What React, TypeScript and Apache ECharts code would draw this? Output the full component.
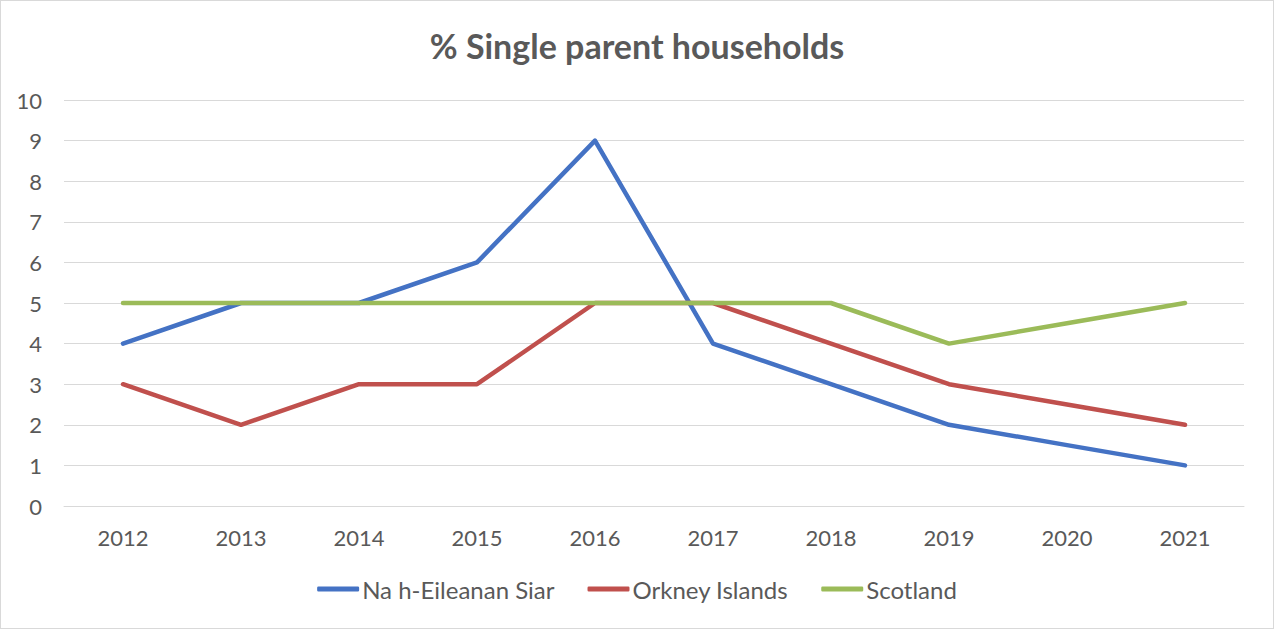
import React, { useEffect, useRef } from "react";
import * as echarts from "echarts";

const years = ["2012", "2013", "2014", "2015", "2016", "2017", "2018", "2019", "2020", "2021"];
const naHEileananSiar = [4, 5, 5, 6, 9, 4, 3, 2, 1.5, 1];
const orkneyIslands = [3, 2, 3, 3, 5, 5, 4, 3, 2.5, 2];
const scotland = [5, 5, 5, 5, 5, 5, 5, 4, 4.5, 5];

const FONT = "Lato, 'Open Sans', sans-serif";
const GREY = "#595959";

export default function App() {
  const ref = useRef<HTMLDivElement>(null);
  useEffect(() => {
    if (!ref.current) return;
    const chart = echarts.init(ref.current, undefined, { renderer: "svg" });
    const mk = (name: string, data: number[], color: string) => ({
      name,
      type: "line",
      data,
      symbol: "none",
      lineStyle: { color, width: 4.5, cap: "round", join: "round" },
      itemStyle: { color },
    });
    chart.setOption({
      animation: false,
      backgroundColor: "#ffffff",
      title: {
        text: "% Single parent households",
        left: "center",
        top: 22,
        textStyle: { fontFamily: FONT, fontSize: 34, fontWeight: "bold", color: GREY },
      },
      grid: { left: 63, right: 29, top: 99, bottom: 122, containLabel: false },
      xAxis: {
        type: "category",
        data: years,
        boundaryGap: true,
        axisLine: { lineStyle: { color: "#d9d9d9", width: 1 } },
        axisTick: { show: false },
        axisLabel: { color: GREY, fontFamily: FONT, fontSize: 22, margin: 20 },
      },
      yAxis: {
        type: "value",
        min: 0,
        max: 10,
        interval: 1,
        axisLine: { show: false },
        axisTick: { show: false },
        splitLine: { lineStyle: { color: "#d9d9d9", width: 1 } },
        axisLabel: { color: GREY, fontFamily: FONT, fontSize: 22, margin: 22 },
      },
      legend: {
        bottom: 22,
        left: "center",
        icon: "roundRect",
        itemWidth: 42,
        itemHeight: 5,
        itemGap: 33,
        textStyle: { color: GREY, fontFamily: FONT, fontSize: 24, padding: [0, 0, 0, -2] },
        data: ["Na h-Eileanan Siar", "Orkney Islands", "Scotland"],
      },
      series: [
        mk("Na h-Eileanan Siar", naHEileananSiar, "#4472C4"),
        mk("Orkney Islands", orkneyIslands, "#C0504D"),
        mk("Scotland", scotland, "#9BBB59"),
      ],
    });
    return () => chart.dispose();
  }, []);
  return (
    <div
      ref={ref}
      style={{
        position: "absolute",
        left: 0,
        top: 0,
        width: 1274,
        height: 629,
        boxSizing: "border-box",
        border: "1px solid #d9d9d9",
        background: "#fff",
      }}
    />
  );
}
